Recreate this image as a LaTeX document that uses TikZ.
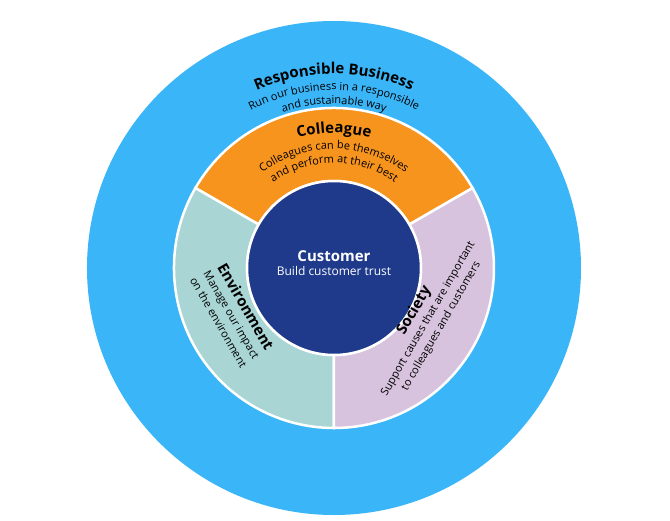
\documentclass[tikz,border=0pt]{standalone}
\usepackage{fontspec}
\setmainfont{Open Sans}
\usetikzlibrary{decorations.text}
\definecolor{outerblue}{HTML}{3AB5F7}
\definecolor{orng}{HTML}{F7941D}
\definecolor{teal}{HTML}{A9D6D5}
\definecolor{lav}{HTML}{D8C3DE}
\definecolor{navy}{HTML}{1F3A8A}
\begin{document}
\begin{tikzpicture}[x=1pt,y=1pt,
  seg/.style={draw=white,line width=2.5pt},
  arct/.style={decorate,decoration={text along path,text align=center,text color=#1}},
  side/.style={align=center,inner sep=0pt,font=\fontsize{11}{15}\selectfont}]
\useasboundingbox (-334,-252) rectangle (336,268);
\fill[outerblue] (0,0) circle (247);
\path[seg,fill=orng] (30:87) -- (30:160) arc (30:150:160) -- (150:87) arc (150:30:87) -- cycle;
\path[seg,fill=teal] (150:87) -- (150:160) arc (150:270:160) -- (270:87) arc (270:150:87) -- cycle;
\path[seg,fill=lav] (270:87) -- (270:160) arc (270:390:160) -- (390:87) arc (390:270:87) -- cycle;
\filldraw[navy,draw=white,line width=2.5pt] (0,0) circle (87);
% Responsible Business
\path[arct=black,decoration={text={|\bfseries\fontsize{15}{15}\selectfont|Responsible Business}}] (150:194) arc (150:30:194);
\path[arct=black,decoration={text={|\fontsize{11}{11}\selectfont|Run our business in a responsible}}] (150:178) arc (150:30:178);
\path[arct=black,decoration={text={|\fontsize{11}{11}\selectfont|and sustainable way}}] (150:164) arc (150:30:164);
% Colleague
\path[arct=black,decoration={text={|\bfseries\fontsize{15}{15}\selectfont|Colleague}}] (150:135) arc (150:30:135);
\path[arct=black,decoration={text={|\fontsize{11}{11}\selectfont|Colleagues can be themselves}}] (150:119) arc (150:30:119);
\path[arct=black,decoration={text={|\fontsize{11}{11}\selectfont|and perform at their best}}] (150:105) arc (150:30:105);
% Environment
\node[side,rotate=-60] (env) at (-101,-46) {{\bfseries\fontsize{15}{17}\selectfont Environment}\\Manage our impact\\on the environment};
% Society
\node[side,rotate=60] (soc) at (93,-50) {{\bfseries\fontsize{15}{17}\selectfont Society}\\Support causes that are important\\to colleagues and customers};
% Customer
\node[align=center,text=white,inner sep=0pt] (cust) at (0,5) {{\bfseries\fontsize{15}{19}\selectfont Customer}\\[2pt]{\fontsize{12}{14}\selectfont Build customer trust}};
\end{tikzpicture}
\end{document}
